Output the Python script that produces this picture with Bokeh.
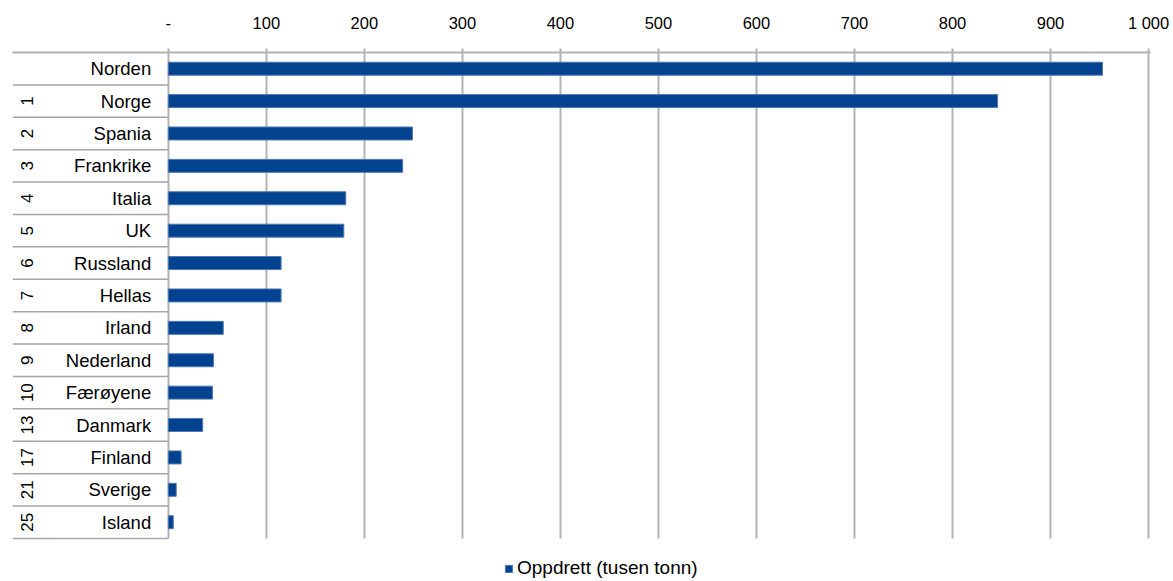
import math
from bokeh.plotting import figure
from bokeh.models import (Range1d, LinearAxis, FixedTicker, ColumnDataSource,
                          Legend, LegendItem)
from bokeh.core.properties import value
from bokeh.embed import file_html
from bokeh.resources import INLINE

countries = ["Norden", "Norge", "Spania", "Frankrike", "Italia", "UK", "Russland",
             "Hellas", "Irland", "Nederland", "Færøyene", "Danmark", "Finland",
             "Sverige", "Island"]
ranks = ["", "1", "2", "3", "4", "5", "6", "7", "8", "9", "10", "13", "17", "21", "25"]
oppdrett = [953, 846, 249, 239, 181, 179, 115, 115, 56, 46, 45, 35, 13, 8, 5]
tick_values = [0, 100, 200, 300, 400, 500, 600, 700, 800, 900, 1000]
tick_labels = {0: "-", 1000: "1 000"}
series_name = "Oppdrett (tusen tonn)"

FONT = "Liberation Sans"
BAR = "#03428e"
GRID = "#b3b3b3"

n = len(countries)
rows = [i + 0.5 for i in range(n)]
src = ColumnDataSource(dict(y=rows, right=oppdrett, name=countries, rank=ranks))

p = figure(width=1173, height=581, output_backend="svg", toolbar_location=None,
           x_range=Range1d(-159, 1002), y_range=Range1d(16.33, 0),
           x_axis_location=None, y_axis_location=None,
           min_border_left=12, min_border_right=23, min_border_top=52,
           min_border_bottom=0)
p.outline_line_color = None
p.background_fill_color = "white"

top = LinearAxis(ticker=FixedTicker(ticks=tick_values),
                 major_label_overrides={k: v for k, v in tick_labels.items()})
top.axis_line_color = GRID
top.axis_line_width = 2
top.major_tick_line_color = GRID
top.major_tick_line_width = 2
top.major_tick_in = 0
top.major_tick_out = 4
top.minor_tick_line_color = None
top.major_label_standoff = 17
top.major_label_text_font = FONT
top.major_label_text_font_size = "16.5px"
top.major_label_text_color = "#000000"
p.add_layout(top, "above")

p.xgrid.ticker = FixedTicker(ticks=tick_values)
p.xgrid.grid_line_color = GRID
p.xgrid.grid_line_width = 2
p.xgrid.cross_bounds = (0, n)
p.ygrid.grid_line_color = None

# category table lines
p.segment(x0=[-159] * n, x1=[0] * n, y0=list(range(1, n + 1)), y1=list(range(1, n + 1)),
          line_color="#a6a6a6", line_width=1.5)

bars = p.hbar(y="y", left=0, right="right", height=0.4, source=src,
              fill_color=BAR, line_color="#4d76b3", line_width=1)

p.text(x=-17.5, y="y", text="name", source=src, text_font=value(FONT),
       text_font_size="18.5px", text_align="right", text_baseline="middle",
       text_color="#000000")
p.text(x=-144, y="y", text="rank", source=src, text_font=value(FONT),
       text_font_size="17px", text_align="center", text_baseline="middle",
       angle=math.pi / 2, text_color="#000000")

legend = Legend(items=[LegendItem(label=series_name, renderers=[bars])],
                location=(492, 2), orientation="horizontal",
                border_line_color=None, background_fill_alpha=0,
                glyph_width=9, glyph_height=9, label_standoff=4,
                label_height=16, padding=0, margin=0, spacing=0,
                label_text_font=FONT, label_text_font_size="19px",
                label_text_color="#000000")
p.add_layout(legend, "center")

open("out.html", "w").write(file_html(p, INLINE))
